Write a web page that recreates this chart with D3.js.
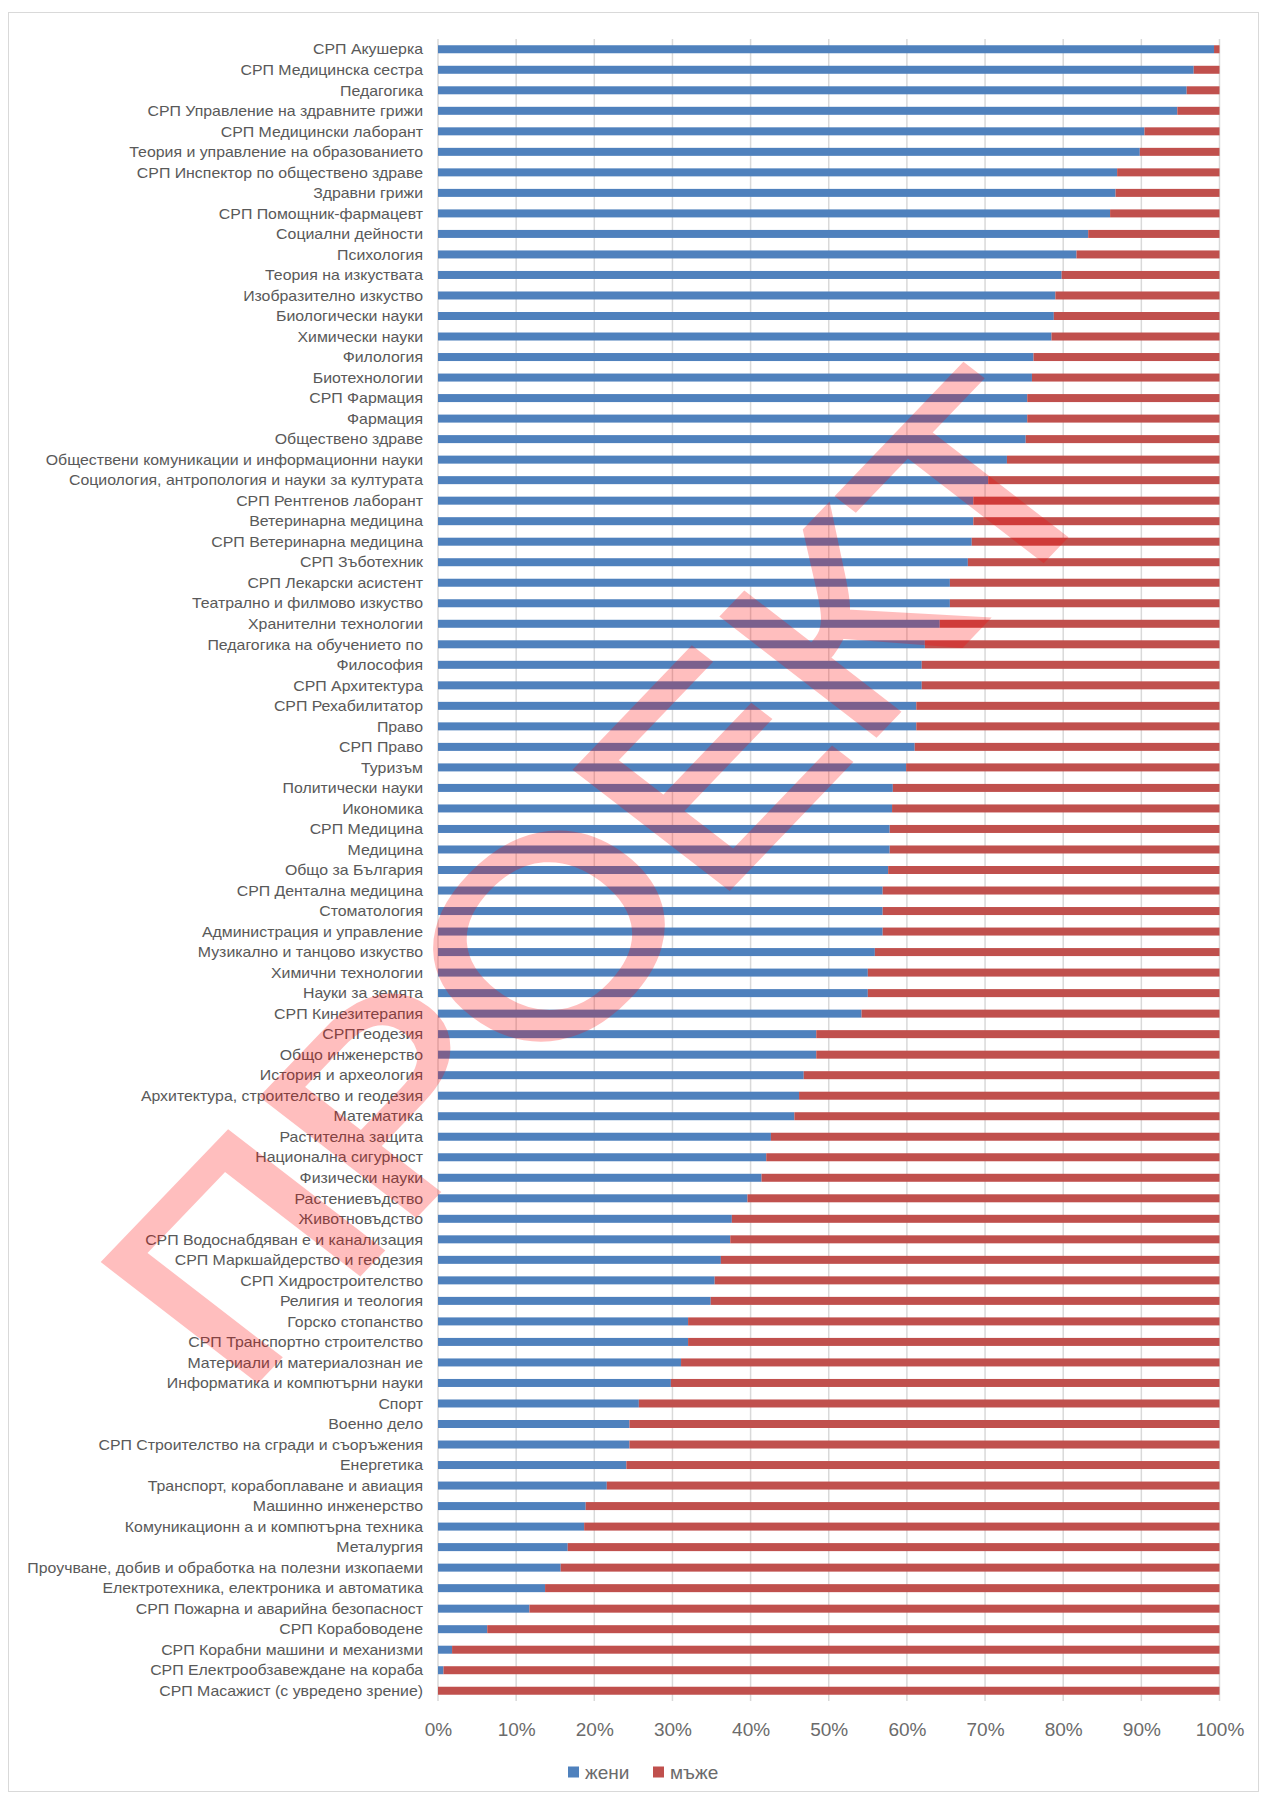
<!DOCTYPE html>
<html>
<head>
<meta charset="utf-8">
<script src="https://cdn.jsdelivr.net/npm/d3@7"></script>
<style>
  body { margin: 0; background: #fff; }
  svg { display: block; font-family: "Liberation Sans", Arial, sans-serif; }
</style>
</head>
<body>
<div id="chart"></div>
<script>
// категории (отгоре надолу)
var categories = [
  "СРП Акушерка", "СРП Медицинска сестра", "Педагогика", "СРП Управление на здравните грижи",
  "СРП Медицински лаборант", "Теория и управление на образованието", "СРП Инспектор по обществено здраве",
  "Здравни грижи", "СРП Помощник-фармацевт", "Социални дейности", "Психология", "Теория на изкуствата",
  "Изобразително изкуство", "Биологически науки", "Химически науки", "Филология", "Биотехнологии",
  "СРП Фармация", "Фармация", "Обществено здраве", "Обществени комуникации и информационни науки",
  "Социология, антропология и науки за културата", "СРП Рентгенов лаборант", "Ветеринарна медицина",
  "СРП Ветеринарна медицина", "СРП Зъботехник", "СРП Лекарски асистент", "Театрално и филмово изкуство",
  "Хранителни технологии", "Педагогика на обучението по", "Философия", "СРП Архитектура",
  "СРП Рехабилитатор", "Право", "СРП Право", "Туризъм", "Политически науки", "Икономика",
  "СРП Медицина", "Медицина", "Общо за България", "СРП Дентална медицина", "Стоматология",
  "Администрация и управление", "Музикално и танцово изкуство", "Химични технологии", "Науки за земята",
  "СРП Кинезитерапия", "СРПГеодезия", "Общо инженерство", "История и археология",
  "Архитектура, строителство и геодезия", "Математика", "Растителна защита", "Национална сигурност",
  "Физически науки", "Растениевъдство", "Животновъдство", "СРП Водоснабдяван е и канализация",
  "СРП Маркшайдерство и геодезия", "СРП Хидростроителство", "Религия и теология", "Горско стопанство",
  "СРП Транспортно строителство", "Материали и материалознан ие", "Информатика и компютърни науки",
  "Спорт", "Военно дело", "СРП Строителство на сгради и съоръжения", "Енергетика",
  "Транспорт, корабоплаване и авиация", "Машинно инженерство", "Комуникационн а и компютърна техника",
  "Металургия", "Проучване, добив и обработка на полезни изкопаеми",
  "Електротехника, електроника и автоматика", "СРП Пожарна и аварийна безопасност", "СРП Корабоводене",
  "СРП Корабни машини и механизми", "СРП Електрообзавеждане на кораба", "СРП Масажист (с увредено зрение)"
];

// жени, %
var women = [
  99.3, 96.7, 95.8, 94.6, 90.4, 89.8, 86.9, 86.7, 86.0, 83.2, 81.7, 79.8, 79.0, 78.8, 78.5, 76.2, 76.0,
  75.4, 75.4, 75.2, 72.8, 70.4, 68.5, 68.5, 68.3, 67.8, 65.5, 65.5, 64.2, 62.3, 61.9, 61.9, 61.2, 61.2,
  61.0, 59.9, 58.2, 58.1, 57.8, 57.8, 57.6, 56.9, 56.9, 56.9, 55.9, 55.0, 55.0, 54.2, 48.4, 48.4, 46.8,
  46.2, 45.6, 42.6, 42.0, 41.4, 39.6, 37.6, 37.4, 36.2, 35.4, 34.9, 32.0, 32.0, 31.1, 29.8, 25.7, 24.5,
  24.5, 24.1, 21.6, 18.9, 18.7, 16.6, 15.7, 13.7, 11.7, 6.3, 1.8, 0.7, 0.0
];

// мъже, %
var men = [
  0.7, 3.3, 4.2, 5.4, 9.6, 10.2, 13.1, 13.3, 14.0, 16.8, 18.3, 20.2, 21.0, 21.2, 21.5, 23.8, 24.0,
  24.6, 24.6, 24.8, 27.2, 29.6, 31.5, 31.5, 31.7, 32.2, 34.5, 34.5, 35.8, 37.7, 38.1, 38.1, 38.8, 38.8,
  39.0, 40.1, 41.8, 41.9, 42.2, 42.2, 42.4, 43.1, 43.1, 43.1, 44.1, 45.0, 45.0, 45.8, 51.6, 51.6, 53.2,
  53.8, 54.4, 57.4, 58.0, 58.6, 60.4, 62.4, 62.6, 63.8, 64.6, 65.1, 68.0, 68.0, 68.9, 70.2, 74.3, 75.5,
  75.5, 75.9, 78.4, 81.1, 81.3, 83.4, 84.3, 86.3, 88.3, 93.7, 98.2, 99.3, 100.0
];

var seriesNames = ["жени", "мъже"];
var colors = ["#4f81bd", "#c0504d"];
var tickValues = [0, 0.1, 0.2, 0.3, 0.4, 0.5, 0.6, 0.7, 0.8, 0.9, 1];

var W = 1261, H = 1795;
var plot = {left: 438, right: 1219.5, top: 39, bottom: 1701};

var svg = d3.select("#chart").append("svg")
    .attr("width", W)
    .attr("height", H);

svg.append("rect")
    .attr("x", 8.5).attr("y", 12.5)
    .attr("width", 1250).attr("height", 1779)
    .attr("fill", "#fff")
    .attr("stroke", "#d9d9d9");

var table = categories.map(function(c, i) {
  return {cat: c, "жени": women[i], "мъже": men[i]};
});

var stack = d3.stack().keys(seriesNames).offset(d3.stackOffsetExpand);
var layers = stack(table);

var x = d3.scaleLinear().domain([0, 1]).range([plot.left, plot.right]);
var y = d3.scaleBand()
    .domain(categories)
    .range([plot.top, plot.bottom])
    .paddingInner(0.61)
    .paddingOuter(0.305);

// gridlines
svg.append("g").selectAll("line")
  .data(tickValues)
  .join("line")
    .attr("x1", d => x(d)).attr("x2", d => x(d))
    .attr("y1", plot.top).attr("y2", plot.bottom)
    .attr("stroke", "#d9d9d9")
    .attr("stroke-width", 1.5);

// bars
svg.append("g").selectAll("g")
  .data(layers)
  .join("g")
    .attr("fill", (d, i) => colors[i])
  .selectAll("rect")
  .data(d => d)
  .join("rect")
    .attr("x", d => x(d[0]))
    .attr("width", d => Math.max(0, x(d[1]) - x(d[0])))
    .attr("y", d => y(d.data.cat))
    .attr("height", y.bandwidth());

// x axis
var xAxis = svg.append("g")
    .attr("transform", "translate(0," + (plot.bottom + 32) + ")")
    .call(d3.axisBottom(x).tickValues(tickValues).tickFormat(d3.format(".0%")).tickSize(0));
xAxis.select(".domain").remove();
xAxis.selectAll("text")
    .attr("dy", 0)
    .attr("font-family", "Liberation Sans, Arial, sans-serif")
    .attr("font-size", 19)
    .attr("fill", "#6b6b6b");

// category labels, stretched a bit like the original
var labelRight = 423;
var probe = svg.append("text")
    .attr("font-size", 14.5)
    .text("Теория и управление на образованието");
var k = 294 / probe.node().getComputedTextLength();
probe.remove();

svg.append("g").selectAll("text")
  .data(categories)
  .join("text")
    .attr("transform", d => "translate(" + labelRight + "," + (y(d) + y.bandwidth() / 2) + ") scale(" + k + ",1)")
    .attr("text-anchor", "end")
    .attr("dy", "0.36em")
    .attr("font-size", 14.5)
    .attr("fill", "#595959")
    .text(d => d);

// legend
var legend = svg.append("g").attr("transform", "translate(568,1772)");
var legX = [0, 85];
seriesNames.forEach(function(name, i) {
  var g = legend.append("g").attr("transform", "translate(" + legX[i] + ",0)");
  g.append("rect").attr("x", 0).attr("y", -5.5).attr("width", 11).attr("height", 11).attr("fill", colors[i]);
  g.append("text").attr("x", 17).attr("dy", "0.36em")
    .attr("font-size", 19).attr("fill", "#6b6b6b").text(name);
});

// watermark (skewed diagonal text, like the stretched original)
svg.append("g")
    .attr("opacity", 0.25)
  .append("text")
    .attr("transform", "matrix(0.734,-0.766,0.740,0.571,240,1398)")
    .attr("font-size", 300)
    .attr("fill", "#ff0000")
    .attr("stroke", "#ff0000")
    .attr("stroke-width", 6)
    .attr("stroke-linejoin", "miter")
    .text("ПРОЕКТ");
</script>
</body>
</html>
